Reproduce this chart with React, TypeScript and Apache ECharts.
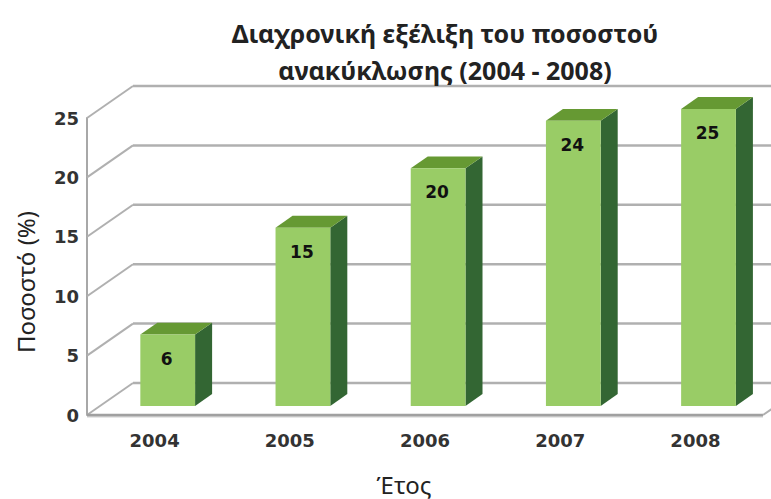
import React, { useEffect, useRef } from "react";
import * as echarts from "echarts";

const categories = ["2004", "2005", "2006", "2007", "2008"];
const values = [6, 15, 20, 24, 25];
const yTicks = [0, 5, 10, 15, 20, 25];

const titleText = "Διαχρονική εξέλιξη του ποσοστού\nανακύκλωσης (2004 - 2008)";
const yName = "Ποσοστό (%)";
const xName = "Έτος";

// 3D depth projection (pixels) of the chart floor
const DEPTH_X = 46;
const DEPTH_Y = 32;
const BAR_FRONT = 0.285; // fraction of depth where bar front face sits
const BAR_BACK = 0.655;
const BAR_WIDTH = 0.405; // fraction of the band

export default function App() {
  const ref = useRef<HTMLDivElement>(null);

  useEffect(() => {
    document.body.style.margin = "0";
    const chart = echarts.init(ref.current!, null, { renderer: "svg" });

    const gridStroke = "#b0b0b0";

    const option: any = {
      animation: false,
      backgroundColor: "#ffffff",
      title: {
        text: titleText,
        left: 440,
        top: 9,
        textAlign: "center",
        textStyle: {
          fontFamily: "Noto Sans",
          fontWeight: "bold",
          fontSize: 25,
          lineHeight: 37,
          color: "#222",
        },
      },
      graphic: [
        {
          type: "text",
          x: 25,
          y: 282,
          rotation: Math.PI / 2,
          style: {
            text: yName,
            align: "center",
            verticalAlign: "middle",
            fontFamily: "Noto Sans",
            fontSize: 24,
            fill: "#222",
          },
        },
        {
          type: "text",
          x: 404,
          y: 484,
          style: {
            text: xName,
            align: "center",
            verticalAlign: "middle",
            lineHeight: 26,
            fontFamily: "Noto Sans",
            fontSize: 24,
            fill: "#222",
          },
        },
      ],
      grid: {
        left: 87,
        right: 8,
        top: 118,
        bottom: 84,
        containLabel: false,
        outerBoundsMode: "none",
      },
      xAxis: {
        type: "category",
        data: categories,
        axisLine: { show: false },
        axisTick: { show: false },
        axisLabel: {
          margin: 16,
          fontFamily: "DejaVu Sans",
          fontWeight: "bold",
          fontSize: 18,
          color: "#333",
        },
      },
      yAxis: {
        type: "value",
        min: 0,
        max: 25,
        interval: 5,
        axisLine: { show: true, lineStyle: { color: "#a8a8a8", width: 2 } },
        axisTick: { show: false },
        splitLine: { show: false },
        axisLabel: {
          margin: 8,
          fontFamily: "DejaVu Sans",
          fontWeight: "bold",
          fontSize: 18,
          color: "#333",
          padding: [20, 0, 0, 0],
        },
      },
      series: [
        {
          type: "custom",
          name: "grid3d",
          z: 1,
          clip: false,
          silent: true,
          data: yTicks.map((v) => [0, v]),
          renderItem: (params: any, api: any) => {
            const cs = params.coordSys;
            const v = api.value(1);
            const y = api.coord([0, v])[1];
            const x0 = cs.x;
            const x1 = cs.x + cs.width;
            const children: any[] = [
              {
                type: "line",
                shape: { x1: x0, y1: y, x2: x0 + DEPTH_X, y2: y - DEPTH_Y },
                style: { stroke: gridStroke, lineWidth: 2 },
              },
              {
                type: "line",
                shape: { x1: x0 + DEPTH_X, y1: y - DEPTH_Y, x2: x1 + DEPTH_X, y2: y - DEPTH_Y },
                style: { stroke: gridStroke, lineWidth: 2.5 },
              },
            ];
            if (v === 0) {
              children.push(
                {
                  type: "line",
                  shape: { x1: x0, y1: y + 1.5, x2: x1, y2: y + 1.5 },
                  style: { stroke: "#d0d0d0", lineWidth: 2 },
                },
                {
                  type: "line",
                  shape: { x1: x0, y1: y, x2: x1, y2: y },
                  style: { stroke: "#a0a0a0", lineWidth: 2.5 },
                },
                {
                  type: "line",
                  shape: { x1: x1, y1: y, x2: x1 + DEPTH_X, y2: y - DEPTH_Y },
                  style: { stroke: gridStroke, lineWidth: 2 },
                }
              );
            }
            return { type: "group", children };
          },
        },
        {
          type: "custom",
          name: "Ποσοστό",
          z: 2,
          clip: false,
          data: values.map((v, i) => [i, v]),
          renderItem: (params: any, api: any) => {
            const i = api.value(0);
            const v = api.value(1);
            const base = api.coord([i, 0]);
            const top = api.coord([i, v]);
            const band = api.size([1, 0])[0];
            const w = band * BAR_WIDTH;
            const fdx = DEPTH_X * BAR_FRONT;
            const fdy = DEPTH_Y * BAR_FRONT;
            const ddx = DEPTH_X * (BAR_BACK - BAR_FRONT);
            const ddy = DEPTH_Y * (BAR_BACK - BAR_FRONT);
            const left = base[0] + fdx - w / 2;
            const right = left + w;
            const bottom = base[1] - fdy;
            const topY = top[1] - fdy;
            return {
              type: "group",
              children: [
                {
                  type: "polygon",
                  shape: {
                    points: [
                      [right, topY],
                      [right + ddx, topY - ddy],
                      [right + ddx, bottom - ddy],
                      [right, bottom],
                    ],
                  },
                  style: { fill: "#336633" },
                },
                {
                  type: "polygon",
                  shape: {
                    points: [
                      [left, topY],
                      [left + ddx, topY - ddy],
                      [right + ddx, topY - ddy],
                      [right, topY],
                    ],
                  },
                  style: { fill: "#669933" },
                },
                {
                  type: "rect",
                  shape: { x: left, y: topY, width: w, height: bottom - topY },
                  style: { fill: "#99cc66" },
                },
                {
                  type: "text",
                  style: {
                    text: String(v),
                    x: left + w / 2 - 1,
                    y: topY + 24,
                    align: "center",
                    verticalAlign: "middle",
                    fontFamily: "DejaVu Sans",
                    fontWeight: "bold",
                    fontSize: 17,
                    fill: "#111",
                  },
                },
              ],
            };
          },
        },
      ],
    };

    chart.setOption(option);
    return () => chart.dispose();
  }, []);

  return <div ref={ref} style={{ width: 771, height: 499 }} />;
}
